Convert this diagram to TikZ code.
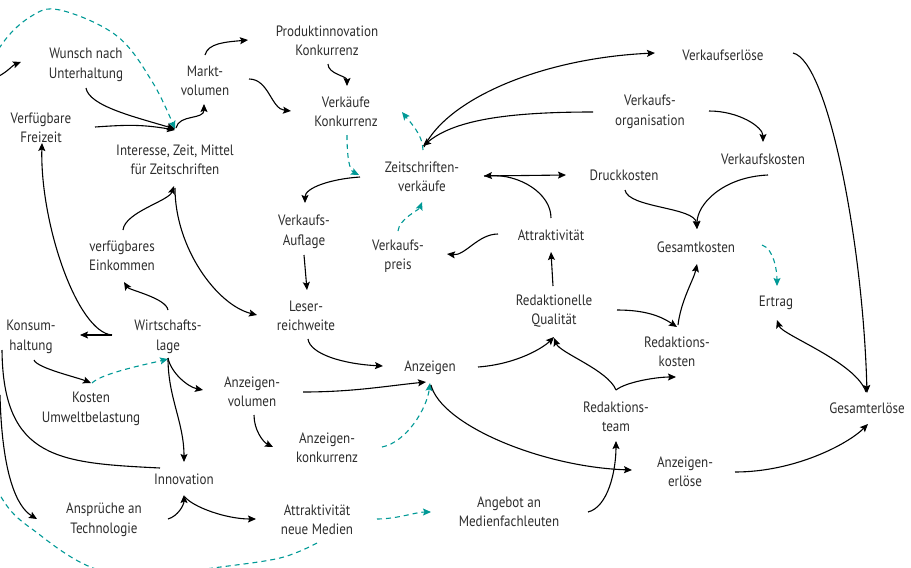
\documentclass[tikz,border=0pt]{standalone}
\usepackage{fontspec}
\setmainfont{PT Sans}[FakeStretch=0.87]
\usepackage{tikz}
\usetikzlibrary{arrows.meta}
\definecolor{textgrey}{RGB}{45,45,45}
\definecolor{linkteal}{RGB}{0,153,150}
\tikzset{
  var/.style={align=center, text=textgrey, inner sep=1pt,
    font=\fontsize{15}{19.5}\selectfont},
  vlink/.style={line width=1.1pt, -{Stealth[length=8pt,width=7pt,inset=1.5pt]}},
  tlink/.style={vlink, linkteal, dash pattern=on 5pt off 4pt}
}
\begin{document}
\begin{tikzpicture}[x=1pt,y=-1pt]
\useasboundingbox (0,0) rectangle (911,568);
\clip (0,0) rectangle (911,568);
% variables, left part
\node[var] (wunsch) at (86,65) {Wunsch nach\\Unterhaltung};
\node[var] (freizeit) at (41,128) {Verfügbare\\Freizeit};
\node[var] (markt) at (205,81) {Markt-\\volumen};
\node[var] (interesse) at (175,160) {Interesse, Zeit, Mittel\\für Zeitschriften};
\node[var] (einkommen) at (122,256) {verfügbares\\Einkommen};
\node[var] (konsum) at (31,337) {Konsum-\\haltung};
\node[var] (wirtschaft) at (168,337) {Wirtschafts-\\lage};
\node[var] (umwelt) at (91,409) {Kosten\\Umweltbelastung};
\node[var] (anzvol) at (252,392) {Anzeigen-\\volumen};
\node[var] (innovation) at (184,479) {Innovation};
\node[var] (ansprueche) at (104,520) {Ansprüche an\\Technologie};
% variables, middle part
\node[var] (prodinno) at (327,41) {Produktinnovation\\Konkurrenz};
\node[var] (verkkonk) at (346,112) {Verkäufe\\Konkurrenz};
\node[var] (zsverk) at (422,177) {Zeitschriften-\\verkäufe};
\node[var] (auflage) at (304,232) {Verkaufs-\\Auflage};
\node[var] (preis) at (398,256) {Verkaufs-\\preis};
\node[var] (leser) at (306,316) {Leser-\\reichweite};
\node[var] (anzeigen) at (430,368) {Anzeigen};
\node[var] (anzkonk) at (327,448) {Anzeigen-\\konkurrenz};
\node[var] (neuemedien) at (317,520) {Attraktivität\\neue Medien};
\node[var] (angebot) at (509,512) {Angebot an\\Medienfachleuten};
% variables, right part
\node[var] (verkerl) at (723,55) {Verkaufserlöse};
\node[var] (verkorg) at (650,112) {Verkaufs-\\organisation};
\node[var] (verkkost) at (763,159) {Verkaufskosten};
\node[var] (druck) at (624,175) {Druckkosten};
\node[var] (attrakt) at (551,235) {Attraktivität};
\node[var] (gesamtk) at (696,247) {Gesamtkosten};
\node[var] (ertrag) at (776,303) {Ertrag};
\node[var] (qualitaet) at (554,311) {Redaktionelle\\Qualität};
\node[var] (redkost) at (677,352) {Redaktions-\\kosten};
\node[var] (gesamterl) at (867,408) {Gesamterlöse};
\node[var] (redteam) at (616,417) {Redaktions-\\team};
\node[var] (anzerl) at (685,472) {Anzeigen-\\erlöse};
% loose ends at the left border
\coordinate (lrand1) at (-1,76);
\coordinate (lrand2) at (2,350);
\coordinate (lrand3) at (0,395);
% big dashed loop
\draw[tlink] plot[smooth,tension=0.6] coordinates {([shift={(0,23)}]neuemedien.center)
  (280,558) (213,568) (150,576) (93,568) (40,535) (0,495) (-35,400) (-45,250)
  (-25,100) (0,47) (30,17) (60,10) (117,36) (153,83) ([shift={(0,-31)}]interesse.center)};
% into Interesse, Zeit, Mittel
\draw[vlink] (lrand1) .. controls +(8,-4) and +(-8,3) .. ([shift={(-65,-3)}]wunsch.center);
\draw[vlink] ([shift={(0,23)}]wunsch.center) .. controls +(3,18) and +(-40,-12) .. ([shift={(0,-31)}]interesse.center);
\draw[vlink] ([shift={(54,-1)}]freizeit.center) .. controls +(30,-2) and +(-35,-6) .. ([shift={(0,-30)}]interesse.center);
\draw[vlink] ([shift={(1,-32)}]interesse.center) .. controls +(3,-14) and +(0,16) .. ([shift={(-1,23)}]markt.center);
\draw[vlink] ([shift={(0,-26)}]markt.center) .. controls +(3,-12) and +(-22,2) .. ([shift={(-79,-1)}]prodinno.center);
\draw[vlink] ([shift={(44,-2)}]markt.center) .. controls +(20,0) and +(-20,-2) .. ([shift={(-55,-1)}]verkkonk.center);
\draw[vlink] ([shift={(1,23)}]prodinno.center) .. controls +(0,10) and +(0,-10) .. ([shift={(1,-26)}]verkkonk.center);
\draw[tlink] ([shift={(1,23)}]verkkonk.center) .. controls +(0,20) and +(-10,-5) .. ([shift={(-63,-2)}]zsverk.center);
\draw[tlink] ([shift={(1,-27)}]zsverk.center) .. controls +(0,-15) and +(8,10) .. ([shift={(56,0)}]verkkonk.center);
% sales side
\draw[vlink] ([shift={(-57,0)}]verkorg.center) .. controls +(-90,0) and +(30,-25) .. ([shift={(1,-31)}]zsverk.center);
\draw[vlink] ([shift={(2,-30)}]zsverk.center) .. controls +(25,-50) and +(-110,5) .. ([shift={(-68,-2)}]verkerl.center);
\draw[vlink] ([shift={(70,-2)}]verkerl.center) .. controls +(35,8) and +(-4,-150) .. ([shift={(0,-15)}]gesamterl.center);
\draw[vlink] ([shift={(59,-1)}]verkorg.center) .. controls +(30,0) and +(0,-15) .. ([shift={(0,-17)}]verkkost.center);
\draw[vlink] ([shift={(5,16)}]verkkost.center) .. controls +(-45,2) and +(0,-25) .. ([shift={(1,-18)}]gesamtk.center);
\draw[vlink] ([shift={(1,15)}]druck.center) .. controls +(3,18) and +(-2,-22) .. ([shift={(1,-18)}]gesamtk.center);
\draw[vlink] ([shift={(62,-1)}]zsverk.center) -- ([shift={(-58,0)}]druck.center);
\draw[vlink] ([shift={(0,-17)}]attrakt.center) .. controls +(0,-25) and +(35,-2) .. ([shift={(62,-1)}]zsverk.center);
\draw[tlink] ([shift={(0,-25)}]preis.center) .. controls +(1,-12) and +(-3,8) .. ([shift={(0,25)}]zsverk.center);
\draw[vlink] ([shift={(-53,-1)}]attrakt.center) .. controls +(-20,0) and +(18,2) .. ([shift={(49,-2)}]preis.center);
\draw[vlink] ([shift={(-62,0)}]zsverk.center) .. controls +(-30,2) and +(0,-15) .. ([shift={(1,-29)}]auflage.center);
\draw[vlink] ([shift={(0,23)}]auflage.center) -- ([shift={(1,-26)}]leser.center);
% advertising side
\draw[vlink] ([shift={(2,23)}]leser.center) .. controls +(2,15) and +(-40,-2) .. ([shift={(-47,-2)}]anzeigen.center);
\draw[vlink] ([shift={(51,0)}]anzvol.center) .. controls +(50,0) and +(-40,4) .. ([shift={(-4,14)}]anzeigen.center);
\draw[tlink] ([shift={(55,-1)}]anzkonk.center) .. controls +(25,-5) and +(-3,25) .. ([shift={(0,15)}]anzeigen.center);
\draw[vlink] ([shift={(48,-1)}]anzeigen.center) .. controls +(40,-3) and +(-10,10) .. ([shift={(0,26)}]qualitaet.center);
\draw[vlink] ([shift={(1,17)}]anzeigen.center) .. controls +(10,40) and +(-90,-3) .. ([shift={(-53,-2)}]anzerl.center);
\draw[vlink] ([shift={(-1,-25)}]qualitaet.center) -- ([shift={(0,17)}]attrakt.center);
\draw[vlink] ([shift={(63,-1)}]qualitaet.center) .. controls +(30,0) and +(-15,-10) .. ([shift={(0,-25)}]redkost.center);
\draw[vlink] ([shift={(1,-27)}]redkost.center) .. controls +(3,-25) and +(-3,15) .. ([shift={(1,17)}]gesamtk.center);
\draw[vlink] ([shift={(0,-27)}]redteam.center) .. controls +(-8,-20) and +(6,15) .. ([shift={(0,27)}]qualitaet.center);
\draw[vlink] ([shift={(0,-27)}]redteam.center) .. controls +(10,-8) and +(-20,0) .. ([shift={(-1,25)}]redkost.center);
\draw[vlink] ([shift={(79,0)}]angebot.center) .. controls +(20,-5) and +(0,30) .. ([shift={(0,24)}]redteam.center);
\draw[vlink] ([shift={(50,0)}]anzerl.center) .. controls +(60,0) and +(-20,20) .. ([shift={(1,16)}]gesamterl.center);
\draw[vlink] ([shift={(-1,-16)}]gesamterl.center) .. controls +(-10,-30) and +(5,15) .. ([shift={(1,17)}]ertrag.center);
\draw[tlink] ([shift={(66,-2)}]gesamtk.center) .. controls +(12,4) and +(0,-15) .. ([shift={(1,-17)}]ertrag.center);
% Wirtschaftslage
\draw[vlink] ([shift={(0,-27)}]wirtschaft.center) .. controls +(-2,-12) and +(5,8) .. ([shift={(2,26)}]einkommen.center);
\draw[vlink] ([shift={(1,-26)}]einkommen.center) .. controls +(2,-18) and +(-5,15) .. ([shift={(-1,26)}]interesse.center);
\draw[vlink] ([shift={(0,28)}]interesse.center) .. controls +(0,60) and +(-40,-10) .. ([shift={(-49,-1)}]leser.center);
\draw[vlink] ([shift={(-56,-2)}]wirtschaft.center) -- ([shift={(49,-2)}]konsum.center);
\draw[vlink] ([shift={(-56,-2)}]wirtschaft.center) .. controls +(-35,-3) and +(-2,80) .. ([shift={(1,15)}]freizeit.center);
\draw[vlink] ([shift={(0,21)}]wirtschaft.center) .. controls +(3,15) and +(-15,-3) .. ([shift={(-49,-2)}]anzvol.center);
\draw[vlink] ([shift={(0,21)}]wirtschaft.center) .. controls +(0,40) and +(0,-40) .. ([shift={(0,-17)}]innovation.center);
\draw[tlink] ([shift={(1,-26)}]umwelt.center) .. controls +(10,-10) and +(-20,5) .. ([shift={(0,22)}]wirtschaft.center);
\draw[vlink] ([shift={(3,23)}]konsum.center) .. controls +(3,8) and +(-15,-6) .. ([shift={(0,-26)}]umwelt.center);
\draw[vlink] ([shift={(2,23)}]anzvol.center) .. controls +(0,15) and +(-10,-5) .. ([shift={(-54,-1)}]anzkonk.center);
% Innovation
\draw[vlink] ([shift={(1,18)}]innovation.center) .. controls +(8,10) and +(-30,0) .. ([shift={(-61,-1)}]neuemedien.center);
\draw[vlink] ([shift={(64,-1)}]ansprueche.center) .. controls +(10,-3) and +(0,10) .. ([shift={(0,16)}]innovation.center);
\draw[tlink] ([shift={(60,-1)}]neuemedien.center) .. controls +(20,0) and +(-15,0) .. ([shift={(-78,0)}]angebot.center);
\draw[line width=1.1pt] ([shift={(-24,-11)}]innovation.center) .. controls +(-100,-5) and +(1,110) .. (lrand2);
\draw[vlink] (lrand3) .. controls +(2,80) and +(-20,-12) .. ([shift={(-67,-1)}]ansprueche.center);
\end{tikzpicture}
\end{document}
